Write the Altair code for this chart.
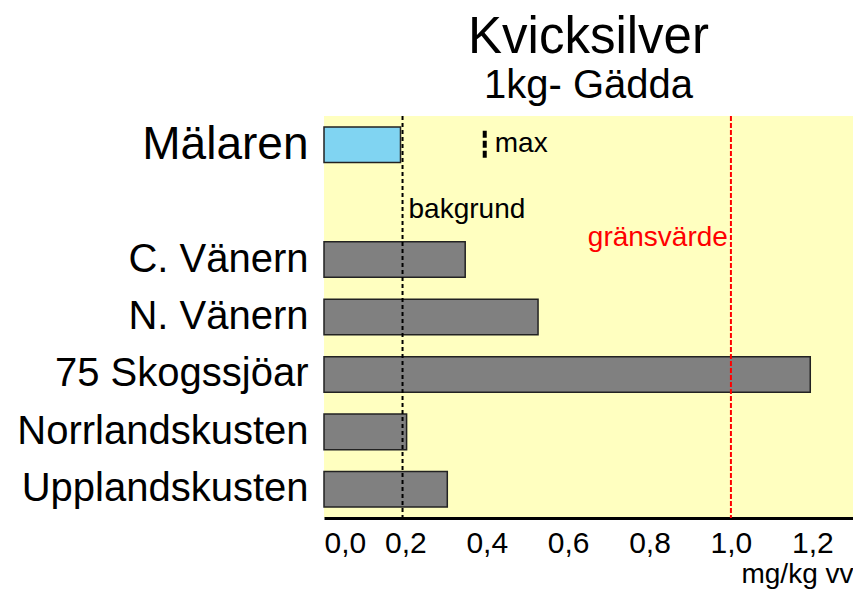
import altair as alt
import pandas as pd

# ---- data ----
categories = ["Mälaren", " ", "C. Vänern", "N. Vänern", "75 Skogssjöar",
              "Norrlandskusten", "Upplandskusten"]
values = [0.188, None, 0.347, 0.526, 1.195, 0.203, 0.303]
bar_colors = ["#80D4F2", None, "#808080", "#808080", "#808080", "#808080", "#808080"]
tick_values = [0.0, 0.2, 0.4, 0.6, 0.8, 1.0, 1.2]
x_domain = [0, 1.3]
background_level = [0.193]      # bakgrund
limit_level = [1.0]             # gränsvärde
max_level = [0.395]             # max (Mälaren)

FONT = "Liberation Sans"

df = pd.DataFrame({"plats": categories, "varde": values, "farg": bar_colors})
bars_df = df.dropna()

y_scale = alt.Scale(domain=categories, paddingInner=0.38, paddingOuter=0.19)
x_scale = alt.Scale(domain=x_domain, nice=False, zero=True)

x_axis = alt.Axis(
    values=tick_values,
    labelExpr="replace(format(datum.value, '.1f'), '.', ',')",
    ticks=False, grid=False,
    domainColor="black", domainWidth=3,
    labelFont=FONT, labelFontSize=30, labelColor="black", labelPadding=10,
    title="mg/kg vv", titleFont=FONT, titleFontSize=28, titleFontWeight="normal",
    titleColor="black", titleAnchor="end", titlePadding=2,
)
y_axis = alt.Axis(
    title=None, ticks=False, domain=False, grid=False,
    labelFont=FONT, labelColor="black", labelPadding=16, labelLimit=400,
    labelFontSize={"condition": {"test": "datum.value == 'Mälaren'", "value": 46}, "value": 40},
)

bars = alt.Chart(bars_df).mark_bar(stroke="#222222", strokeWidth=1.5).encode(
    x=alt.X("varde:Q", scale=x_scale, axis=x_axis),
    y=alt.Y("plats:N", sort=categories, scale=y_scale, axis=y_axis),
    color=alt.Color("farg:N", scale=None),
)

bg_df = pd.DataFrame({"x": background_level, "plats": [" "], "txt": ["bakgrund"]})
lim_df = pd.DataFrame({"x": limit_level, "plats": ["C. Vänern"], "txt": ["gränsvärde"]})
max_df = pd.DataFrame({"x": max_level, "plats": ["Mälaren"], "txt": ["max"]})

bg_rule = alt.Chart(bg_df).mark_rule(color="black", strokeWidth=2, strokeDash=[4, 3]).encode(
    x=alt.X("x:Q", scale=x_scale))
lim_rule = alt.Chart(lim_df).mark_rule(color="#FF0000", strokeWidth=2, strokeDash=[5, 2]).encode(
    x=alt.X("x:Q", scale=x_scale))
max_rule = alt.Chart(max_df).mark_rule(color="black", strokeWidth=4, strokeDash=[7, 3],
                                       yOffset=-14, y2Offset=14).encode(
    x=alt.X("x:Q", scale=x_scale),
    y=alt.Y("plats:N", sort=categories, scale=y_scale),
    y2="plats:N",
)

bg_text = alt.Chart(bg_df).mark_text(font=FONT, fontSize=28, align="left", baseline="alphabetic",
                                     dx=6, dy=16, color="black").encode(
    x=alt.X("x:Q", scale=x_scale), y=alt.Y("plats:N", sort=categories, scale=y_scale), text="txt:N")
lim_text = alt.Chart(lim_df).mark_text(font=FONT, fontSize=28, align="right", baseline="alphabetic",
                                       dx=-3, dy=-14, color="#FF0000").encode(
    x=alt.X("x:Q", scale=x_scale), y=alt.Y("plats:N", sort=categories, scale=y_scale), text="txt:N")
max_text = alt.Chart(max_df).mark_text(font=FONT, fontSize=28, align="left", baseline="alphabetic",
                                       dx=10, dy=7, color="black").encode(
    x=alt.X("x:Q", scale=x_scale), y=alt.Y("plats:N", sort=categories, scale=y_scale), text="txt:N")

chart = alt.layer(bars, bg_rule, lim_rule, max_rule, bg_text, lim_text, max_text).properties(
    width=529, height=402,
    title=alt.TitleParams(
        text="Kvicksilver", subtitle="1kg- Gädda",
        font=FONT, fontSize=51, fontWeight="normal", color="black",
        subtitleFont=FONT, subtitleFontSize=40, subtitleColor="black",
        anchor="middle", offset=8, subtitlePadding=2,
    ),
    autosize=alt.AutoSizeParams(type="none"),
    padding={"left": 316, "top": 108, "right": 0, "bottom": 74},
).configure(background="white").configure_view(fill="#FFFFC0", stroke=None)

chart.save("out.html", embed_options={"renderer": "svg", "actions": False})
